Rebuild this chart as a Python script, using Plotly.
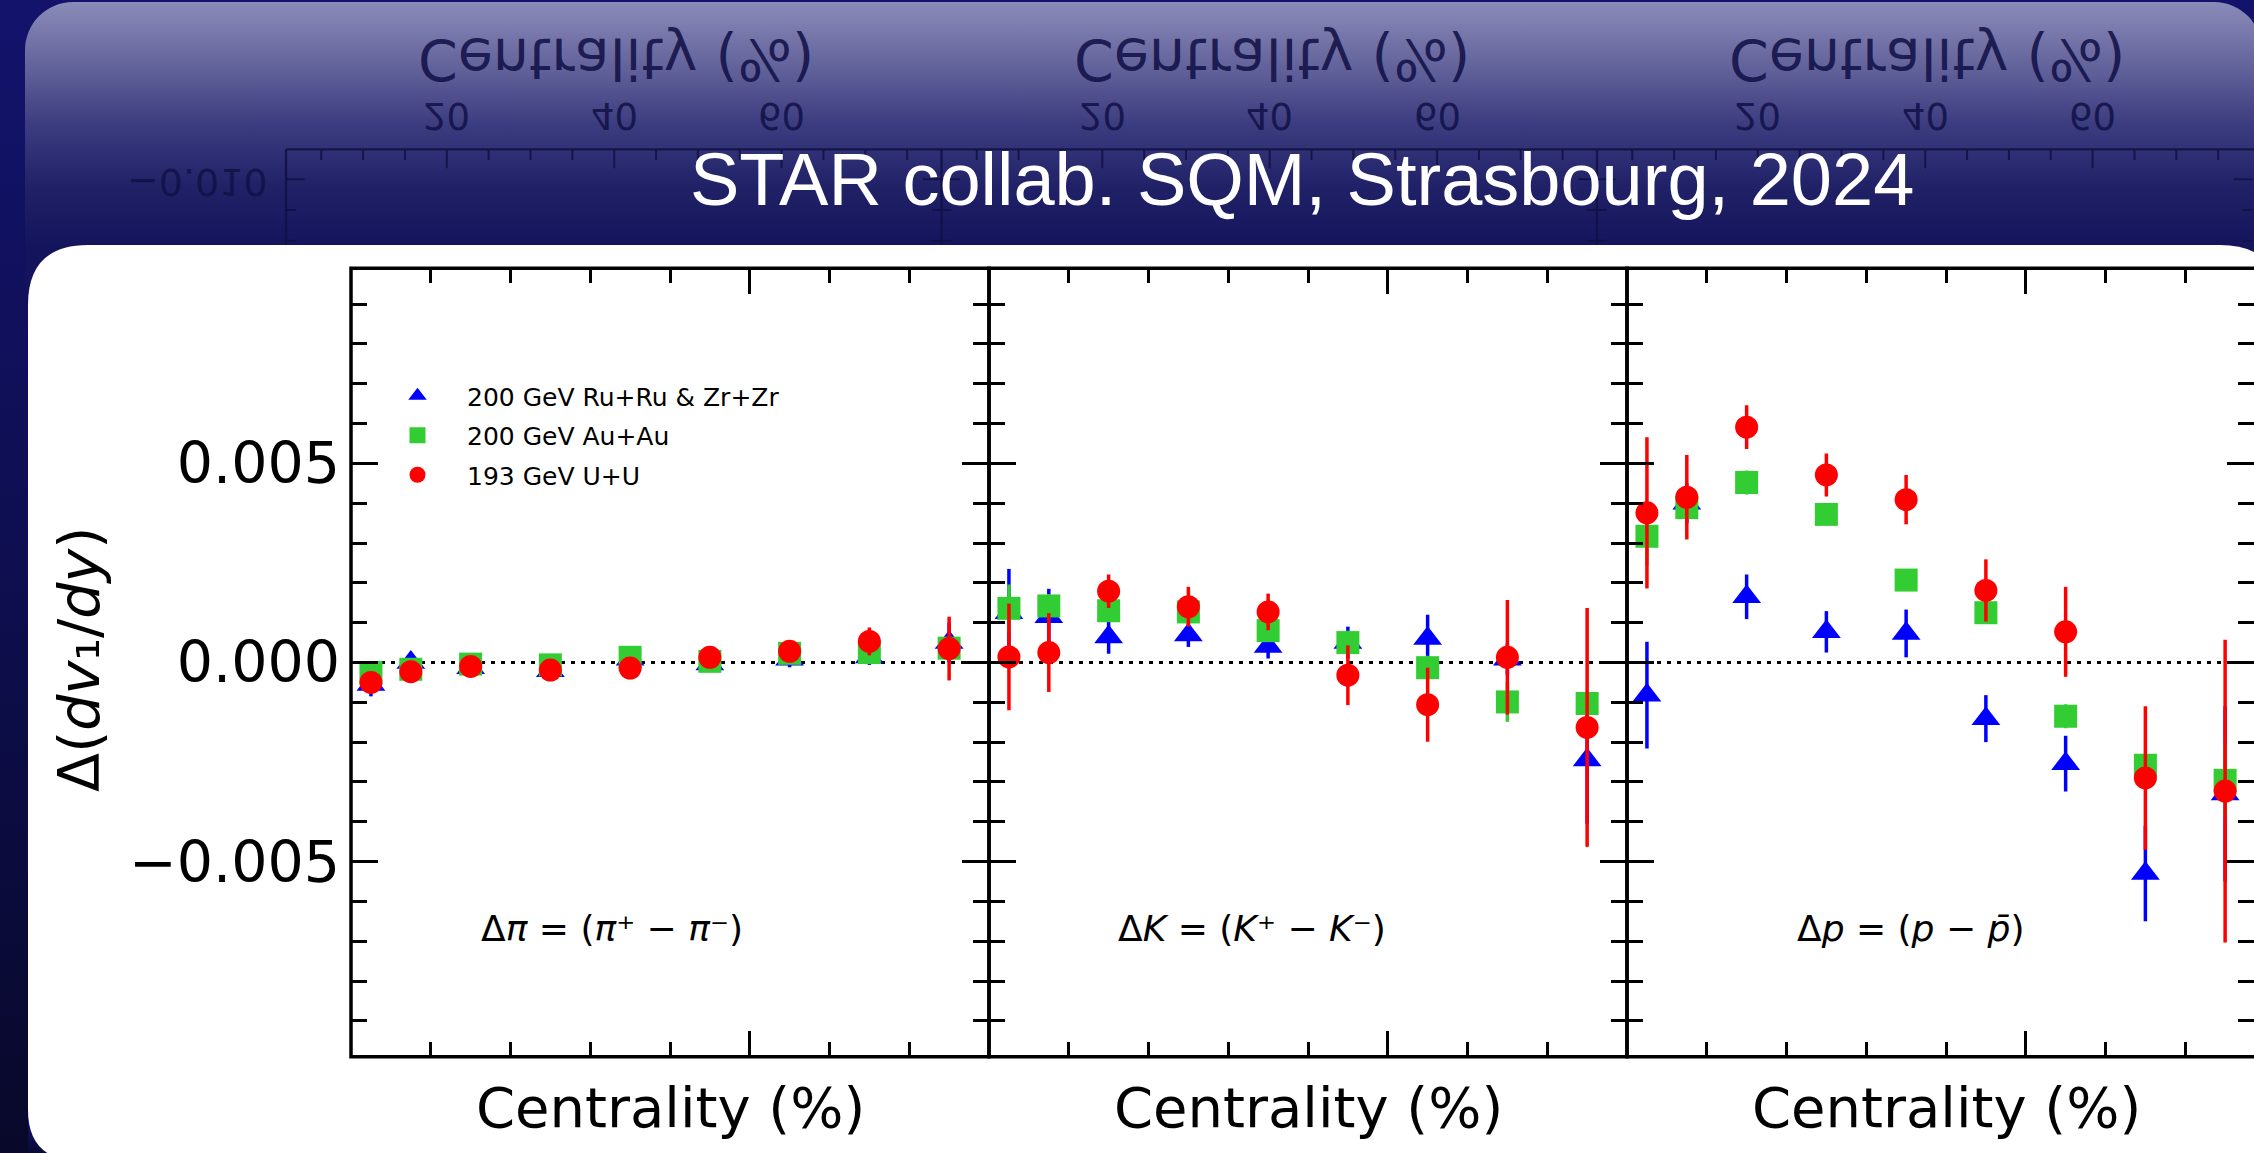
import base64
import plotly.graph_objects as go

W, H = 2254, 1153

# ---------------------------------------------------------------- data
centrality = [2.5, 7.5, 15, 25, 35, 45, 55, 65, 75]

# Delta(dv1/dy) in units of 1e-3, with statistical errors
pi_ruzr = [-0.55, 0.00, -0.13, -0.21, 0.08, -0.04, 0.08, 0.14, 0.50]
pi_ruzr_err = [0.30, 0.12, 0.15, 0.15, 0.20, 0.20, 0.20, 0.20, 0.50]
pi_auau = [-0.25, -0.17, -0.04, -0.06, 0.13, 0.03, 0.23, 0.25, 0.36]
pi_auau_err = [0.10, 0.10, 0.10, 0.10, 0.10, 0.10, 0.10, 0.10, 0.20]
pi_uu = [-0.50, -0.23, -0.10, -0.19, -0.14, 0.13, 0.28, 0.53, 0.35]
pi_uu_err = [0.10, 0.10, 0.10, 0.10, 0.10, 0.10, 0.10, 0.35, 0.80]

k_ruzr = [1.25, 1.15, 0.64, 0.69, 0.40, 0.50, 0.60, 0.08, -2.45]
k_ruzr_err = [1.10, 0.70, 0.42, 0.30, 0.30, 0.40, 0.60, 0.40, 1.60]
k_auau = [1.36, 1.42, 1.30, 1.27, 0.80, 0.50, -0.13, -0.99, -1.03]
k_auau_err = [0.60, 0.30, 0.20, 0.20, 0.20, 0.30, 0.30, 0.50, 0.30]
k_uu = [0.14, 0.25, 1.79, 1.40, 1.27, -0.32, -1.06, 0.13, -1.63]
k_uu_err = [1.34, 0.99, 0.42, 0.50, 0.46, 0.75, 0.93, 1.44, 3.00]

p_ruzr = [-0.82, 4.00, 1.65, 0.77, 0.73, -1.41, -2.54, -5.30, -3.30]
p_ruzr_err = [1.34, 0.50, 0.56, 0.52, 0.60, 0.59, 0.70, 1.20, 2.20]
p_auau = [3.17, 3.89, 4.52, 3.72, 2.07, 1.25, -1.35, -2.58, -2.96]
p_auau_err = [0.73, 0.20, 0.30, 0.20, 0.20, 0.20, 0.30, 0.30, 0.93]
p_uu = [3.76, 4.15, 5.91, 4.71, 4.09, 1.81, 0.77, -2.90, -3.23]
p_uu_err = [1.90, 1.06, 0.55, 0.54, 0.62, 0.78, 1.13, 1.80, 3.80]

series_names = ["200 GeV Ru+Ru & Zr+Zr", "200 GeV Au+Au", "193 GeV U+U"]
series_keys = ["ruzr", "auau", "uu"]
series_symbols = ["triangle-up", "square", "circle"]
series_sizes = [25, 23, 23]
series_colors = ["#0000ff", "#32cd32", "#ff0000"]

panel_labels = [
    "Δ<i>π</i> = (<i>π</i>⁺ − <i>π</i>⁻)",
    "Δ<i>K</i> = (<i>K</i>⁺ − <i>K</i>⁻)",
    "Δ<i>p</i> = (<i>p</i> − <i>p̄</i>)",
]
panel_values = [
    [(pi_ruzr, pi_ruzr_err), (pi_auau, pi_auau_err), (pi_uu, pi_uu_err)],
    [(k_ruzr, k_ruzr_err), (k_auau, k_auau_err), (k_uu, k_uu_err)],
    [(p_ruzr, p_ruzr_err), (p_auau, p_auau_err), (p_uu, p_uu_err)],
]

y_tickvals = [-0.005, 0.0, 0.005]
y_ticktext = ["−0.005", "0.000", "0.005"]
y_minor = [k * 0.001 for k in range(-9, 10) if k % 5 != 0]
x_tickvals = [50]
x_minor = [10, 20, 30, 40, 60, 70]

title_text = "STAR collab. SQM, Strasbourg, 2024"
x_title = "Centrality (%)"
y_title = "Δ(<i>dv</i>₁/<i>dy</i>)"

# ---------------------------------------------------------------- geometry (pixels)
def px(x):
    return x / W


def py(y):
    return 1 - y / H


panel_left = [351, 989, 1627]
panel_w = 638
plot_top, plot_bottom = 268.3, 1056.7
x_full = 80.0
y_lo, y_hi = -0.0099, 0.0099
font = "DejaVu Sans"

# ---------------------------------------------------------------- slide background
bg_svg = f"""<svg xmlns="http://www.w3.org/2000/svg" width="{W}" height="{H}" viewBox="0 0 {W} {H}">
<defs>
<linearGradient id="slide" x1="0" y1="0" x2="0" y2="1">
<stop offset="0" stop-color="#13136c"/>
<stop offset="0.5" stop-color="#0e0e50"/>
<stop offset="1" stop-color="#08082a"/>
</linearGradient>
<linearGradient id="band" gradientUnits="userSpaceOnUse" x1="0" y1="0" x2="0" y2="248">
<stop offset="0" stop-color="rgb(140,140,186)"/>
<stop offset="0.25" stop-color="rgb(102,102,158)"/>
<stop offset="0.5" stop-color="rgb(60,60,128)"/>
<stop offset="0.75" stop-color="rgb(33,33,104)"/>
<stop offset="1" stop-color="rgb(20,20,92)"/>
</linearGradient>
</defs>
<rect width="{W}" height="{H}" fill="url(#slide)"/>
<rect x="25" y="2" width="{W - 25 + 8}" height="320" rx="48" fill="url(#band)"/>
<path d="M28,305 Q28,245 88,245 L2220,245 Q2280,245 2280,305 L2280,1160 L28,1160 Z" fill="#ffffff"/>
<path d="M28,1110 Q28,1153 66,1160 L28,1160 Z" fill="url(#slide)"/>
</svg>"""
bg_uri = "data:image/svg+xml;base64," + base64.b64encode(bg_svg.encode()).decode()

fig = go.Figure()

# ---------------------------------------------------------------- data traces
for i, values in enumerate(panel_values):
    sfx = "" if i == 0 else str(i + 1)
    for j, (vals, errs) in enumerate(values):
        fig.add_trace(go.Scatter(
            x=centrality,
            y=[v * 1e-3 for v in vals],
            error_y=dict(type="data", array=[e * 1e-3 for e in errs],
                         thickness=3.5, width=0, color=series_colors[j]),
            mode="markers",
            marker=dict(symbol=series_symbols[j], size=series_sizes[j],
                        color=series_colors[j], line=dict(width=0)),
            name=series_names[j],
            legendgroup=series_keys[j],
            showlegend=(i == 0),
            xaxis="x" + sfx,
            yaxis="y" + sfx,
        ))

# ---------------------------------------------------------------- axes
tick_style = dict(ticks="inside", tickwidth=3, tickcolor="black", mirror="ticks",
                  showgrid=False, zeroline=False, showline=False)
layout_axes = {}
for i in range(3):
    sfx = "" if i == 0 else str(i + 1)
    left = panel_left[i]
    right = min(left + panel_w, W)
    xr = x_full * (right - left) / panel_w
    layout_axes["xaxis" + sfx] = dict(
        domain=[px(left), px(right)], range=[0, xr], anchor="y" + sfx,
        tickmode="array", tickvals=x_tickvals, ticklen=26, showticklabels=False,
        minor=dict(tickmode="array", tickvals=x_minor, ticks="inside", ticklen=15,
                   tickwidth=3, tickcolor="black", showgrid=False),
        **tick_style)
    layout_axes["yaxis" + sfx] = dict(
        domain=[py(plot_bottom), py(plot_top)], range=[y_lo, y_hi], anchor="x" + sfx,
        tickmode="array", tickvals=y_tickvals, ticktext=y_ticktext, ticklen=27,
        showticklabels=(i == 0), tickfont=dict(family=font, size=57, color="black"),
        ticklabelstandoff=10,
        minor=dict(tickmode="array", tickvals=y_minor, ticks="inside", ticklen=16,
                   tickwidth=3, tickcolor="black", showgrid=False),
        **tick_style)

# ---------------------------------------------------------------- shapes
shapes = []
refl_color = "rgba(16,16,68,0.85)"
refl_lefts = [286, 941.5, 1597]
refl_right = 2252.5
refl_axis_y = 149.3
refl_unit = 8.37
refl_offset = -6.6
refl_x_minor = [5, 10, 15, 25, 30, 35, 45, 50, 55, 65, 70, 75]
refl_x_major = [20, 40, 60]
refl_y_ticks = [(179.3, 18.6), (210.0, 10.0), (240.7, 10.0)]

# mirrored axis frame in the header band
shapes.append(dict(type="line", xref="paper", yref="paper", layer="below",
                   x0=px(refl_lefts[0]), x1=px(W + 5), y0=py(refl_axis_y), y1=py(refl_axis_y),
                   line=dict(color=refl_color, width=2.3)))
for left in refl_lefts:
    shapes.append(dict(type="line", xref="paper", yref="paper", layer="below",
                       x0=px(left), x1=px(left), y0=py(refl_axis_y), y1=py(245),
                       line=dict(color=refl_color, width=2.3)))
    for u in refl_x_minor + refl_x_major:
        xx = left + refl_offset + refl_unit * u
        ln = 19 if u in refl_x_major else 10.7
        shapes.append(dict(type="line", xref="paper", yref="paper", layer="below",
                           x0=px(xx), x1=px(xx), y0=py(refl_axis_y), y1=py(refl_axis_y + ln),
                           line=dict(color=refl_color, width=2)))
for edge in refl_lefts + [refl_right]:
    for yy, ln in refl_y_ticks:
        x0 = edge - ln if edge != refl_lefts[0] else edge
        x1 = edge + ln if edge != refl_right else edge
        shapes.append(dict(type="line", xref="paper", yref="paper", layer="below",
                           x0=px(x0), x1=px(x1), y0=py(yy), y1=py(yy),
                           line=dict(color=refl_color, width=2)))

# panel frames and dotted zero lines
for i in range(3):
    sfx = "" if i == 0 else str(i + 1)
    left = panel_left[i]
    shapes.append(dict(type="rect", xref="paper", yref="paper", layer="below",
                       x0=px(left), x1=px(left + panel_w), y0=py(plot_bottom), y1=py(plot_top),
                       line=dict(color="black", width=3.5), fillcolor="rgba(0,0,0,0)"))
    shapes.append(dict(type="line", xref=f"x{sfx} domain", yref=f"y{sfx}", layer="below",
                       x0=0, x1=1, y0=0, y1=0,
                       line=dict(color="black", width=3, dash="4px,6px")))

# ---------------------------------------------------------------- annotations
annotations = []
refl_text_color = "rgba(18,18,72,0.9)"


def text_ann(text, x, y, size, color="black", family=font, angle=0):
    return dict(text=text, x=px(x), y=py(y), xref="paper", yref="paper",
                xanchor="center", yanchor="middle", showarrow=False, textangle=angle,
                font=dict(family=family, size=size, color=color))


# mirrored labels (flipped vertically after drawing)
for left in refl_lefts:
    annotations.append(text_ann(x_title, left + 330, 59, 57, refl_text_color))
    for u in refl_x_major:
        annotations.append(text_ann(str(u), left + refl_offset + refl_unit * u, 115.5, 37,
                                    refl_text_color))
annotations.append(text_ann("−0.010", 197.5, 182, 38, refl_text_color))
n_flip = len(annotations)

annotations.append(text_ann(title_text, 1302, 179, 74, "white", "Liberation Sans"))
for i in range(3):
    annotations.append(text_ann(x_title, panel_left[i] + panel_w / 2, 1107, 56))
annotations.append(text_ann(y_title, 79, 660, 57, angle=-90))
label_x = [612, 1252, 1910]
for i in range(3):
    annotations.append(text_ann(panel_labels[i], label_x[i], 928, 36))

fig.update_layout(
    width=W, height=H,
    margin=dict(l=0, r=0, t=0, b=0, pad=0),
    paper_bgcolor="#0e0e50",
    plot_bgcolor="rgba(0,0,0,0)",
    font=dict(family=font, color="black"),
    showlegend=True,
    legend=dict(x=px(368), y=py(373), xanchor="left", yanchor="top",
                bgcolor="rgba(0,0,0,0)", borderwidth=0,
                font=dict(family=font, size=25, color="black"),
                itemwidth=89, traceorder="grouped", tracegroupgap=4),
    images=[dict(source=bg_uri, xref="paper", yref="paper", x=0, y=1, sizex=1, sizey=1,
                 xanchor="left", yanchor="top", sizing="stretch", layer="below")],
    shapes=shapes,
    annotations=annotations,
    **layout_axes,
)

# flip the mirrored header labels about their own horizontal centre line
flip_js = """
var gd = document.getElementById('{plot_id}');
var svgTop = gd.querySelector('svg.main-svg').getBoundingClientRect().top;
var nFlip = %d;
gd.querySelectorAll('g.annotation').forEach(function (g) {
  var idx = parseInt(g.getAttribute('data-index'), 10);
  if (idx < nFlip) {
    var t = g.querySelector('text');
    if (!t) { return; }
    var r = t.getBoundingClientRect();
    var c = r.top + r.height / 2 - svgTop;
    g.setAttribute('transform', 'translate(0,' + (2 * c) + ') scale(1,-1)');
  }
});
""" % n_flip

fig.write_html("out.html", post_script=flip_js, config={"displayModeBar": False})
